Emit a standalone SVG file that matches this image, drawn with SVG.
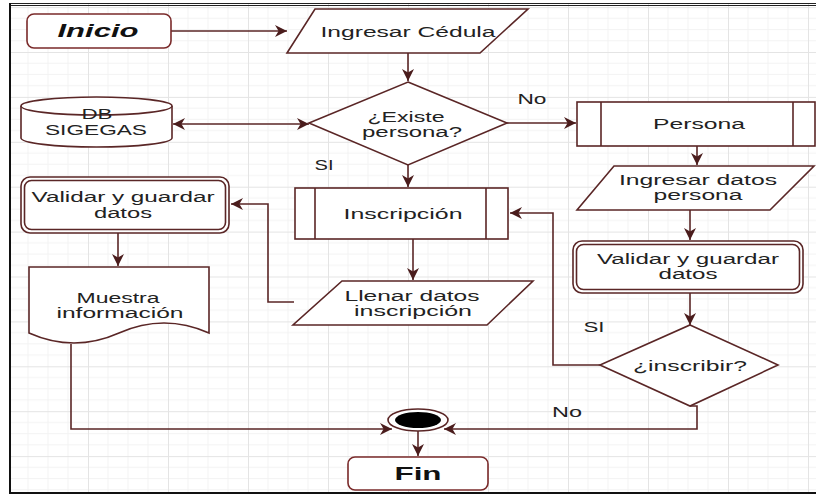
<svg xmlns="http://www.w3.org/2000/svg" width="816" height="495" viewBox="0 0 816 495">
<style>
.node{fill:#fff;stroke:#5a2626;stroke-width:1.6}
.term{fill:#fff;stroke:#7a2a2a;stroke-width:1.6}
.con{fill:none;stroke:#5a2626;stroke-width:1.6}
text{font-family:"Liberation Sans",Arial,sans-serif;font-size:14px;fill:#222;text-anchor:middle}
.big{font-size:18px;font-weight:bold;fill:#111}
.lbl{font-size:14px}
</style>
<defs>
<pattern id="grid" patternUnits="userSpaceOnUse" x="8" y="52" width="80" height="44.9">
<path d="M20,0V44.9M40,0V44.9M60,0V44.9M0,11.22H80M0,22.45H80M0,33.67H80" stroke="#f3f3f3" stroke-width="1" fill="none"/>
<path d="M0.5,0V44.9M0,0.5H80" stroke="#e4e4e4" stroke-width="1" fill="none"/>
</pattern>
<marker id="arr" markerUnits="userSpaceOnUse" markerWidth="12" markerHeight="12" refX="10" refY="5" orient="auto-start-reverse" viewBox="0 0 10 10">
<path d="M0,0L10,5L0,10L3,5z" fill="#4a1c1c"/>
</marker>
</defs>
<rect x="0" y="0" width="816" height="495" fill="#fff"/>
<rect x="10" y="4" width="806" height="489" fill="url(#grid)"/>
<path d="M10,3.5H816M10,5.5H816" stroke="#222" stroke-width="1" fill="none"/>
<path d="M10,3V493H816" stroke="#111" stroke-width="2" fill="none"/>

<g id="connectors">
<path class="con" d="M171,31H287" marker-end="url(#arr)"/>
<path class="con" d="M408,53V81" marker-end="url(#arr)"/>
<path class="con" d="M173,124H309" marker-start="url(#arr)" marker-end="url(#arr)"/>
<path class="con" d="M507,123H576" marker-end="url(#arr)"/>
<path class="con" d="M408,165V187" marker-end="url(#arr)"/>
<path class="con" d="M413,239V280" marker-end="url(#arr)"/>
<path class="con" d="M294,302H268V204H231" marker-end="url(#arr)"/>
<path class="con" d="M118,233V266" marker-end="url(#arr)"/>
<path class="con" d="M71,344V429H392" marker-end="url(#arr)"/>
<path class="con" d="M697,146V165" marker-end="url(#arr)"/>
<path class="con" d="M690,210V240" marker-end="url(#arr)"/>
<path class="con" d="M690,293V325" marker-end="url(#arr)"/>
<path class="con" d="M600,365H553V213H510" marker-end="url(#arr)"/>
<path class="con" d="M690,406H697V429H444" marker-end="url(#arr)"/>
<path class="con" d="M418,431V456" marker-end="url(#arr)"/>
<text class="lbl" x="532" y="104" textLength="29" lengthAdjust="spacingAndGlyphs">No</text>
<text class="lbl" x="324" y="170" textLength="19" lengthAdjust="spacingAndGlyphs">SI</text>
<text class="lbl" x="594" y="332" textLength="21" lengthAdjust="spacingAndGlyphs">SI</text>
<text class="lbl" x="567" y="417" textLength="30" lengthAdjust="spacingAndGlyphs">No</text>
</g>

<g id="inicio">
<rect class="term" x="27" y="14" width="144" height="34" rx="7"/>
<text class="big" x="98" y="37" font-style="italic" textLength="81" lengthAdjust="spacingAndGlyphs">Inicio</text>
</g>

<g id="ingresar-cedula">
<path class="node" d="M315,9H528L480,53H287Z"/>
<text x="408" y="37" font-size="15" textLength="175" lengthAdjust="spacingAndGlyphs">Ingresar Cédula</text>
</g>

<g id="db-sigegas">
<path class="node" d="M21,106V138A75.5,9 0 0 0 172,138V106A75.5,9 0 0 0 21,106Z"/>
<path class="node" d="M21,106A75.5,9 0 0 0 172,106" fill="none"/>
<text x="97" y="119" textLength="31" lengthAdjust="spacingAndGlyphs">DB</text>
<text x="96" y="135" textLength="102" lengthAdjust="spacingAndGlyphs">SIGEGAS</text>
</g>

<g id="existe-persona">
<path class="node" d="M408,82L507,123L408,165L309,123Z"/>
<text x="406" y="122" textLength="77" lengthAdjust="spacingAndGlyphs">¿Existe</text>
<text x="412" y="137" textLength="100" lengthAdjust="spacingAndGlyphs">persona?</text>
</g>

<g id="persona">
<rect class="node" x="577" y="102" width="238" height="44"/>
<path class="node" d="M601,102V146M793,102V146"/>
<text x="699" y="129" textLength="92" lengthAdjust="spacingAndGlyphs">Persona</text>
</g>

<g id="ingresar-datos-persona">
<path class="node" d="M614,166H814L770,210H577Z"/>
<text x="698" y="185" textLength="158" lengthAdjust="spacingAndGlyphs">Ingresar datos</text>
<text x="698" y="200" textLength="89" lengthAdjust="spacingAndGlyphs">persona</text>
</g>

<g id="validar-derecha">
<rect class="node" x="573" y="241" width="230" height="52" rx="9"/>
<rect class="node" x="576.5" y="244.5" width="223" height="45" rx="7" stroke-width="1.2"/>
<text x="688" y="264" textLength="182" lengthAdjust="spacingAndGlyphs">Validar y guardar</text>
<text x="688" y="279" textLength="59" lengthAdjust="spacingAndGlyphs">datos</text>
</g>

<g id="inscribir">
<path class="node" d="M690,325L778,365L690,406L600,365Z"/>
<text x="690" y="371" textLength="114" lengthAdjust="spacingAndGlyphs">¿inscribir?</text>
</g>

<g id="inscripcion">
<rect class="node" x="295" y="188" width="213" height="51"/>
<path class="node" d="M315,188V239M486,188V239"/>
<text x="403" y="219" textLength="119" lengthAdjust="spacingAndGlyphs">Inscripción</text>
</g>

<g id="llenar-datos">
<path class="node" d="M342,281H533L487,325H293Z"/>
<text x="412" y="301" textLength="135" lengthAdjust="spacingAndGlyphs">Llenar datos</text>
<text x="413" y="316" textLength="118" lengthAdjust="spacingAndGlyphs">inscripción</text>
</g>

<g id="validar-izquierda">
<rect class="node" x="21" y="177" width="208" height="56" rx="9"/>
<rect class="node" x="24.5" y="180.5" width="201" height="49" rx="7" stroke-width="1.2"/>
<text x="123" y="202" textLength="183" lengthAdjust="spacingAndGlyphs">Validar y guardar</text>
<text x="123" y="218" textLength="58" lengthAdjust="spacingAndGlyphs">datos</text>
</g>

<g id="muestra-informacion">
<path class="node" d="M29,267H209V333Q164,313 119,333T29,333Z"/>
<text x="118" y="303" textLength="83" lengthAdjust="spacingAndGlyphs">Muestra</text>
<text x="120" y="318" textLength="127" lengthAdjust="spacingAndGlyphs">información</text>
</g>

<g id="union">
<ellipse class="node" cx="418" cy="420" rx="30" ry="11"/>
<ellipse cx="418" cy="420" rx="23" ry="8" fill="#000"/>
</g>

<g id="fin">
<rect class="term" x="348" y="457" width="140" height="33" rx="7"/>
<text class="big" x="418" y="480" textLength="47" lengthAdjust="spacingAndGlyphs">Fin</text>
</g>
</svg>
